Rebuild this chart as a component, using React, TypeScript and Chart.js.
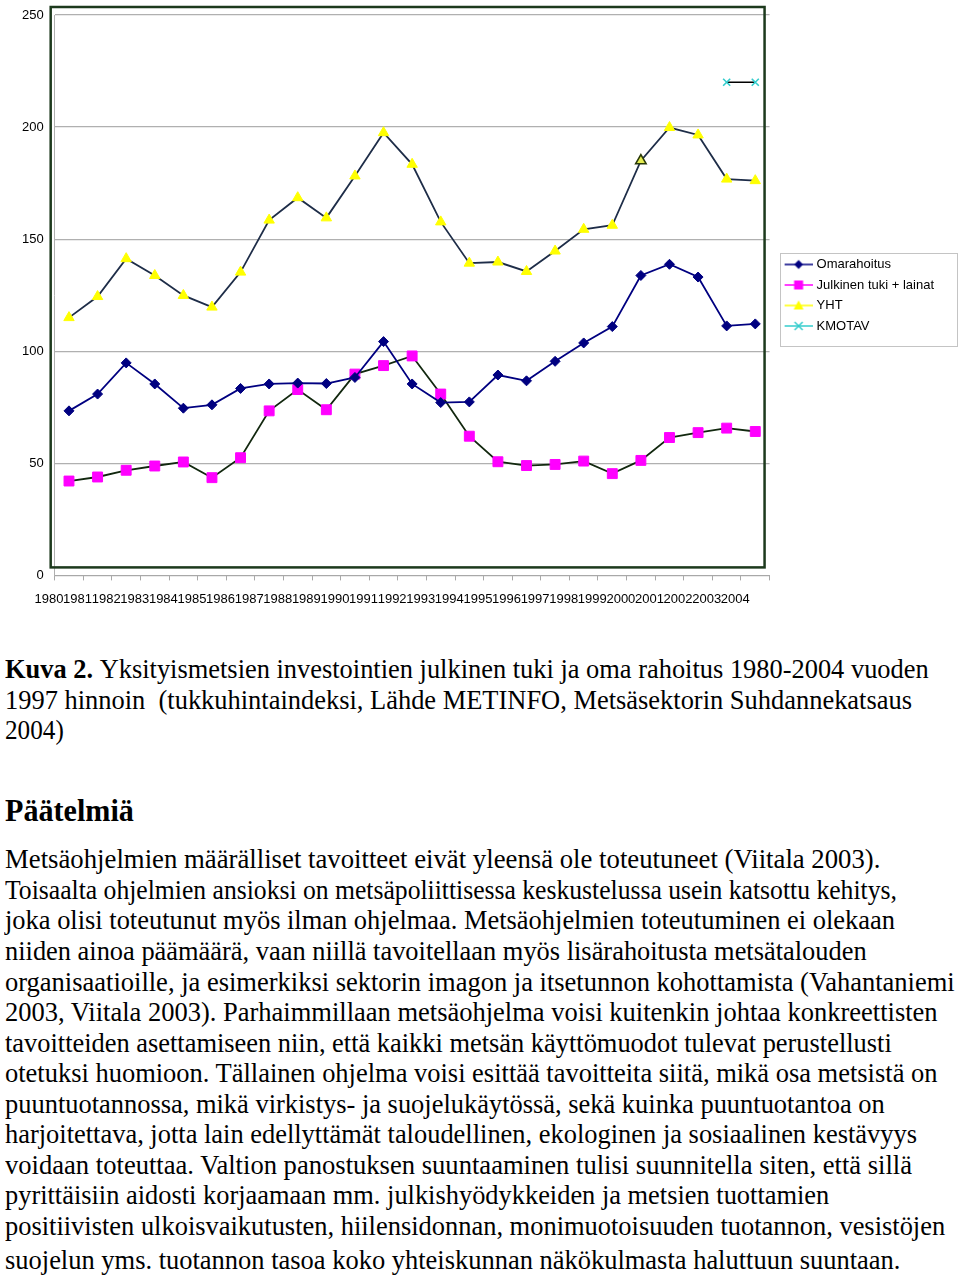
import React, { useEffect, useRef } from "react";
import { Chart, registerables } from "chart.js";

Chart.register(...registerables);

// ---------- chart data ----------
const YEARS = [
  "1980", "1981", "1982", "1983", "1984", "1985", "1986", "1987", "1988", "1989",
  "1990", "1991", "1992", "1993", "1994", "1995", "1996", "1997", "1998", "1999",
  "2000", "2001", "2002", "2003", "2004",
];
const OMARAHOITUS = [
  73.4, 80.9, 94.8, 85.4, 74.6, 76.1, 83.4, 85.4, 85.8, 85.6,
  88.3, 104.3, 85.4, 77.1, 77.4, 89.4, 86.8, 95.5, 103.7, 111.0,
  133.8, 138.8, 133.1, 111.3, 112.2,
];
const JULKINEN = [
  42.1, 43.9, 46.9, 48.8, 50.6, 43.6, 52.5, 73.4, 82.9, 73.9,
  89.8, 93.6, 97.9, 80.9, 62.1, 50.7, 49.0, 49.5, 51.0, 45.4,
  51.3, 61.5, 63.7, 65.7, 64.2,
];
const YHT = [
  115.0, 124.4, 141.3, 133.8, 124.9, 119.7, 135.3, 158.5, 168.5, 159.5,
  178.2, 197.5, 183.4, 157.7, 139.3, 139.8, 135.6, 144.7, 154.4, 156.2,
  185.0, 199.8, 196.5, 176.8, 176.1,
];
const KMOTAV = [
  null, null, null, null, null, null, null, null, null, null,
  null, null, null, null, null, null, null, null, null, null,
  null, null, null, 220, 220,
];
const Y_TICKS = [0, 50, 100, 150, 200, 250];
const SERIES_NAMES = ["Omarahoitus", "Julkinen tuki + lainat", "YHT", "KMOTAV"];

// ---------- text ----------
const CAPTION_LINES = [
  "Yksityismetsien investointien julkinen tuki ja oma rahoitus 1980-2004 vuoden",
  "1997 hinnoin  (tukkuhintaindeksi, Lähde METINFO, Metsäsektorin Suhdannekatsaus",
  "2004)",
];
const HEADING = "Päätelmiä";
const BODY_LINES = [
  "Metsäohjelmien määrälliset tavoitteet eivät yleensä ole toteutuneet (Viitala 2003).",
  "Toisaalta ohjelmien ansioksi on metsäpoliittisessa keskustelussa usein katsottu kehitys,",
  "joka olisi toteutunut myös ilman ohjelmaa. Metsäohjelmien toteutuminen ei olekaan",
  "niiden ainoa päämäärä, vaan niillä tavoitellaan myös lisärahoitusta metsätalouden",
  "organisaatioille, ja esimerkiksi sektorin imagon ja itsetunnon kohottamista (Vahantaniemi",
  "2003, Viitala 2003). Parhaimmillaan metsäohjelma voisi kuitenkin johtaa konkreettisten",
  "tavoitteiden asettamiseen niin, että kaikki metsän käyttömuodot tulevat perustellusti",
  "otetuksi huomioon. Tällainen ohjelma voisi esittää tavoitteita siitä, mikä osa metsistä on",
  "puuntuotannossa, mikä virkistys- ja suojelukäytössä, sekä kuinka puuntuotantoa on",
  "harjoitettava, jotta lain edellyttämät taloudellinen, ekologinen ja sosiaalinen kestävyys",
  "voidaan toteuttaa. Valtion panostuksen suuntaaminen tulisi suunnitella siten, että sillä",
  "pyrittäisiin aidosti korjaamaan mm. julkishyödykkeiden ja metsien tuottamien",
  "positiivisten ulkoisvaikutusten, hiilensidonnan, monimuotoisuuden tuotannon, vesistöjen",
  "suojelun yms. tuotannon tasoa koko yhteiskunnan näkökulmasta haluttuun suuntaan.",
];

// layout of text lines (baseline y, target width)
const CAPTION_BASELINES = [678, 709, 739];
const CAPTION_WIDTHS = [924, 907, 59];
const HEADING_BASELINE = 821;
const HEADING_WIDTH = 129;
const BODY_BASELINES = [868, 899, 929, 960, 991, 1021, 1052, 1082, 1113, 1143, 1174, 1204, 1235, 1269];
const BODY_WIDTHS = [875, 892, 890, 862, 950, 933, 887, 932, 880, 912, 907, 824, 940, 895];

const TEXT_FS = 26.5;
const HEAD_FS = 32;
const SERIF = "'Liberation Serif', 'Times New Roman', serif";
const SANS = "'Liberation Sans', Arial, sans-serif";

function makeIcon(lineColor: string, marker: string, markerColor: string) {
  const c = document.createElement("canvas");
  c.width = 38;
  c.height = 14;
  const g = c.getContext("2d")!;
  g.strokeStyle = lineColor;
  g.lineWidth = 1.5;
  g.beginPath();
  g.moveTo(10, 7);
  g.lineTo(38, 7);
  g.stroke();
  const cx = 24, cy = 7;
  g.fillStyle = markerColor;
  g.strokeStyle = markerColor;
  if (marker === "diamond") {
    g.beginPath();
    g.moveTo(cx, cy - 4.5);
    g.lineTo(cx + 4.5, cy);
    g.lineTo(cx, cy + 4.5);
    g.lineTo(cx - 4.5, cy);
    g.closePath();
    g.fill();
  } else if (marker === "square") {
    g.fillRect(cx - 4.5, cy - 4.5, 9, 9);
  } else if (marker === "triangle") {
    g.beginPath();
    g.moveTo(cx, cy - 5);
    g.lineTo(cx + 5, cy + 4);
    g.lineTo(cx - 5, cy + 4);
    g.closePath();
    g.fill();
  } else {
    g.lineWidth = 1.5;
    g.beginPath();
    g.moveTo(cx - 4, cy - 4);
    g.lineTo(cx + 4, cy + 4);
    g.moveTo(cx + 4, cy - 4);
    g.lineTo(cx - 4, cy + 4);
    g.stroke();
  }
  return c;
}

const framePlugin = {
  id: "frameAndLegendBox",
  afterDraw(chart: any) {
    const { ctx, chartArea: a } = chart;
    ctx.save();
    ctx.strokeStyle = "#1d3a1d";
    ctx.lineWidth = 2.5;
    const l = a.left - 4, t = a.top - 8, r = a.right - 5, b = a.bottom - 8;
    ctx.strokeRect(l, t, r - l, b - t);
    const lg = chart.legend;
    const hb = lg && lg.legendHitBoxes;
    if (hb && hb.length) {
      const first = hb[0];
      const last = hb[hb.length - 1];
      const top = Math.round(first.top + first.height / 2 - 11) + 0.5;
      const bottom = Math.round(last.top + last.height / 2 + 20) + 0.5;
      const left = Math.round(lg.left + 10) + 0.5;
      ctx.strokeStyle = "#c4c4c4";
      ctx.lineWidth = 1;
      ctx.strokeRect(left, top, 177, bottom - top);
    }
    ctx.restore();
  },
};

export default function App() {
  const canvasRef = useRef<HTMLCanvasElement>(null);
  const fitRefs = useRef<(HTMLSpanElement | null)[]>([]);

  useEffect(() => {
    const canvas = canvasRef.current;
    if (!canvas) return;
    const icons = [
      makeIcon("#000080", "diamond", "#000080"),
      makeIcon("#ff00ff", "square", "#ff00ff"),
      makeIcon("#ffff00", "triangle", "#ffff00"),
      makeIcon("#33cccc", "cross", "#33cccc"),
    ];
    const chart = new Chart(canvas, {
      type: "line",
      data: {
        labels: YEARS,
        datasets: [
          {
            label: SERIES_NAMES[0],
            data: OMARAHOITUS,
            borderColor: "#000080",
            borderWidth: 1.8,
            pointStyle: "rectRot",
            pointRadius: 5,
            pointBackgroundColor: "#000080",
            pointBorderColor: "#000080",
            pointBorderWidth: 1,
            tension: 0,
          },
          {
            label: SERIES_NAMES[1],
            data: JULKINEN,
            borderColor: "#12280f",
            borderWidth: 1.8,
            pointStyle: "rect",
            pointRadius: 7,
            pointBackgroundColor: "#ff00ff",
            pointBorderColor: "#ff00ff",
            pointBorderWidth: 1,
            tension: 0,
          },
          {
            label: SERIES_NAMES[2],
            data: YHT,
            borderColor: "#1e2d48",
            borderWidth: 1.8,
            pointStyle: "triangle",
            pointRadius: 6,
            pointBackgroundColor: (c: any) => (c.dataIndex === 20 ? "#e4ec50" : "#ffff00"),
            pointBorderColor: (c: any) => (c.dataIndex === 20 ? "#2a3a08" : "#ffff00"),
            pointBorderWidth: (c: any) => (c.dataIndex === 20 ? 1.6 : 1),
            tension: 0,
          },
          {
            label: SERIES_NAMES[3],
            data: KMOTAV,
            borderColor: "#000000",
            borderWidth: 1.5,
            pointStyle: "crossRot",
            pointRadius: 5,
            pointBackgroundColor: "#33cccc",
            pointBorderColor: "#33cccc",
            pointBorderWidth: 1.6,
            tension: 0,
          },
        ],
      },
      options: {
        animation: false,
        responsive: false,
        events: [],
        layout: { padding: { left: 11, top: 15, right: 16, bottom: 9 } },
        scales: {
          x: {
            type: "category",
            offset: true,
            grid: {
              offset: true,
              drawOnChartArea: false,
              drawTicks: true,
              tickLength: 5,
              color: "#a8a8a8",
            },
            border: { display: true, color: "#a8a8a8", width: 1 },
            ticks: {
              autoSkip: false,
              maxRotation: 0,
              minRotation: 0,
              labelOffset: -20,
              padding: 11,
              color: "#000",
              font: { family: SANS, size: 13 },
            },
          },
          y: {
            min: 0,
            max: 250,
            afterBuildTicks: (s: any) => {
              s.ticks = Y_TICKS.map((v) => ({ value: v }));
            },
            grid: { color: "#b0b0b0", lineWidth: 1.3, drawTicks: false },
            border: { display: true, color: "#b0b0b0", width: 1 },
            ticks: {
              padding: 11,
              color: "#000",
              font: { family: SANS, size: 13, lineHeight: 0.6 },
            },
          },
        },
        plugins: {
          tooltip: { enabled: false },
          legend: {
            display: true,
            position: "right",
            fullSize: false,
            labels: {
              usePointStyle: true,
              pointStyleWidth: 33,
              padding: 7.5,
              color: "#000",
              font: { family: SANS, size: 13 },
              generateLabels: (ch: any) => {
                const items = (Chart.defaults.plugins.legend.labels as any).generateLabels(ch);
                items.forEach((it: any, i: number) => {
                  it.pointStyle = icons[i];
                });
                return items;
              },
            },
          },
        },
      },
      plugins: [framePlugin],
    } as any);
    return () => chart.destroy();
  }, []);

  useEffect(() => {
    const targets = [...CAPTION_WIDTHS, HEADING_WIDTH, ...BODY_WIDTHS];
    fitRefs.current.forEach((el, i) => {
      if (!el) return;
      const w = el.offsetWidth;
      if (w > 0) el.style.transform = `scaleX(${targets[i] / w})`;
    });
  }, []);

  let refIdx = 0;
  const lineStyle = (baseline: number, fs: number): React.CSSProperties => ({
    position: "absolute",
    left: 5,
    top: baseline - 0.8375 * fs,
    fontSize: fs,
    lineHeight: `${fs}px`,
    fontFamily: SERIF,
    color: "#000",
    whiteSpace: "pre",
  });
  const spanStyle: React.CSSProperties = {
    display: "inline-block",
    transformOrigin: "0 0",
    whiteSpace: "pre",
  };

  return (
    <div
      style={{
        position: "absolute",
        left: 0,
        top: 0,
        width: 960,
        height: 1279,
        overflow: "hidden",
        background: "#fff",
      }}
    >
      <canvas
        ref={canvasRef}
        width={960}
        height={627}
        style={{ position: "absolute", left: 0, top: 0 }}
      />
      {CAPTION_LINES.map((t, i) => {
        const k = refIdx++;
        return (
          <div key={"c" + i} style={lineStyle(CAPTION_BASELINES[i], TEXT_FS)}>
            <span ref={(el) => { fitRefs.current[k] = el; }} style={spanStyle}>
              {i === 0 ? <b>Kuva 2. </b> : null}
              {t}
            </span>
          </div>
        );
      })}
      {(() => {
        const k = refIdx++;
        return (
          <div style={{ ...lineStyle(HEADING_BASELINE, HEAD_FS), fontWeight: "bold" }}>
            <span ref={(el) => { fitRefs.current[k] = el; }} style={spanStyle}>
              {HEADING}
            </span>
          </div>
        );
      })()}
      {BODY_LINES.map((t, i) => {
        const k = refIdx++;
        return (
          <div key={"b" + i} style={lineStyle(BODY_BASELINES[i], TEXT_FS)}>
            <span ref={(el) => { fitRefs.current[k] = el; }} style={spanStyle}>
              {t}
            </span>
          </div>
        );
      })}
    </div>
  );
}
